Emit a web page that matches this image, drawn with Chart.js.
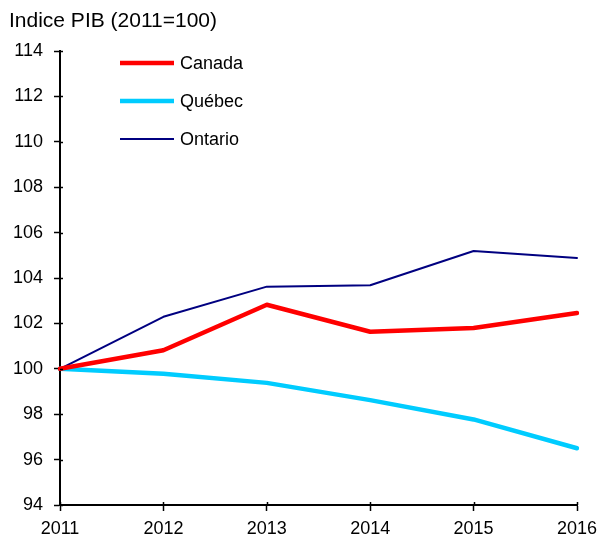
<!DOCTYPE html>
<html>
<head>
<meta charset="utf-8">
<script src="https://cdn.jsdelivr.net/npm/chart.js@4"></script>
<style>
  html, body { margin: 0; padding: 0; background: #fff; }
  #wrap { width: 601px; height: 540px; }
</style>
</head>
<body>
<div id="wrap"><canvas id="pib"></canvas></div>
<script>
const years = ['2011', '2012', '2013', '2014', '2015', '2016'];
const canada = [100, 100.82, 102.82, 101.63, 101.8, 102.46];
const quebec = [100, 99.78, 99.38, 98.62, 97.77, 96.5];
const ontario = [100, 102.29, 103.62, 103.68, 105.19, 104.88];

const FONT = "'Liberation Sans', Arial, sans-serif";

// title + legend drawn inside the plot, plus the small inner tick stubs
const decor = {
  id: 'decor',
  afterDraw(chart) {
    const ctx = chart.ctx;
    const { x, y } = chart.scales;
    ctx.save();
    ctx.fillStyle = '#000';
    ctx.font = '21px ' + FONT;
    ctx.textBaseline = 'alphabetic';
    ctx.fillText('Indice PIB (2011=100)', 9, 27);

    // inner tick stubs
    ctx.strokeStyle = '#000';
    ctx.lineWidth = 1.5;
    y.ticks.forEach((t, i) => {
      const py = Math.round(y.getPixelForTick(i)) + 0.5;
      ctx.beginPath();
      ctx.moveTo(y.right, py);
      ctx.lineTo(y.right + 3, py);
      ctx.stroke();
    });
    x.ticks.forEach((t, i) => {
      const px = Math.round(x.getPixelForTick(i)) + 0.5;
      ctx.beginPath();
      ctx.moveTo(px, x.top);
      ctx.lineTo(px, x.top - 3);
      ctx.stroke();
    });

    // legend
    const rows = [63, 101, 139];
    ctx.font = '18px ' + FONT;
    ctx.textBaseline = 'middle';
    chart.data.datasets.forEach((ds, i) => {
      ctx.strokeStyle = ds.borderColor;
      ctx.lineWidth = ds.borderWidth;
      ctx.lineCap = 'butt';
      ctx.beginPath();
      ctx.moveTo(120, rows[i]);
      ctx.lineTo(174, rows[i]);
      ctx.stroke();
      ctx.fillStyle = '#000';
      ctx.fillText(ds.label, 180, rows[i] + 1);
    });
    ctx.restore();
  }
};

new Chart(document.getElementById('pib'), {
  type: 'line',
  data: {
    labels: years,
    datasets: [
      { label: 'Canada', data: canada, borderColor: '#ff0000', borderWidth: 4.5 },
      { label: 'Québec', data: quebec, borderColor: '#00ccff', borderWidth: 4.5 },
      { label: 'Ontario', data: ontario, borderColor: '#000080', borderWidth: 2 }
    ]
  },
  options: {
    responsive: true,
    maintainAspectRatio: false,
    animation: false,
    devicePixelRatio: 1,
    layout: { padding: { top: 51, right: 24, bottom: 0, left: 0 } },
    elements: {
      point: { radius: 0, hoverRadius: 0 },
      line: { tension: 0, borderJoinStyle: 'round', borderCapStyle: 'round', fill: false }
    },
    plugins: { legend: { display: false }, tooltip: { enabled: false } },
    scales: {
      x: {
        offset: false,
        afterFit: s => { s.height = 35; s.paddingLeft = 0; s.paddingRight = 0; },
        grid: { display: true, drawOnChartArea: false, drawTicks: true, tickLength: 6, color: '#000', tickWidth: 1.5 },
        border: { display: true, color: '#000', width: 2 },
        ticks: { color: '#000', font: { family: FONT, size: 18 }, padding: 7, maxRotation: 0 }
      },
      y: {
        min: 94,
        max: 114,
        afterFit: s => { s.width = 60; },
        grid: { display: true, drawOnChartArea: false, drawTicks: true, tickLength: 6, color: '#000', tickWidth: 1.5 },
        border: { display: true, color: '#000', width: 2 },
        ticks: { stepSize: 2, color: '#000', font: { family: FONT, size: 18 }, padding: 11 }
      }
    }
  },
  plugins: [decor]
});
</script>
</body>
</html>
